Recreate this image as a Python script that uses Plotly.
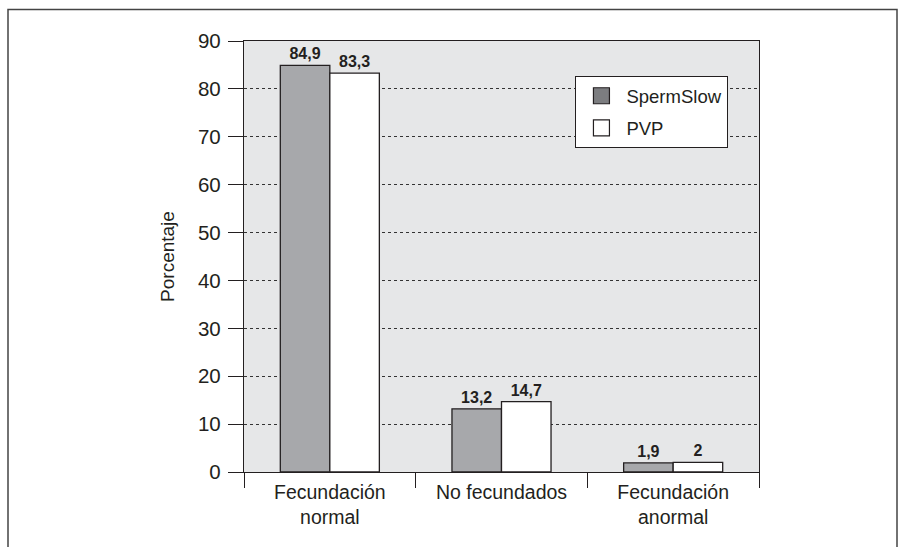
import plotly.graph_objects as go

# Outcome categories and percentages for each medium
categories = ["Fecundación<br>normal", "No fecundados", "Fecundación<br>anormal"]
spermslow = [84.9, 13.2, 1.9]
pvp = [83.3, 14.7, 2.0]
series_names = ["SpermSlow", "PVP"]
y_ticks = [0, 10, 20, 30, 40, 50, 60, 70, 80, 90]

INK = "#231f20"
FONT = "Liberation Sans, Arial, Helvetica, sans-serif"


def fmt(v):
    return f"{v:g}".replace(".", ",")


fig = go.Figure()

bar_styles = [
    (series_names[0], spermslow, "#a7a8ab"),
    (series_names[1], pvp, "#ffffff"),
]
for name, vals, color in bar_styles:
    fig.add_trace(go.Bar(
        x=categories, y=vals, name=name, showlegend=False,
        marker=dict(color=color, line=dict(color=INK, width=1.3)),
        text=[fmt(v) for v in vals], textposition="outside",
        textfont=dict(family=FONT, size=16, color=INK),
        texttemplate="<b>%{text}</b>", cliponaxis=False,
        constraintext="none",
    ))

# Legend entries (square swatches)
legend_styles = [(series_names[0], "#7c7d80"), (series_names[1], "#ffffff")]
for i, (name, color) in enumerate(legend_styles):
    fig.add_trace(go.Scatter(
        x=[None], y=[None], mode="markers", name=name,
        legendgroup=f"g{i}",
        marker=dict(symbol="square", size=17, color=color,
                    line=dict(color=INK, width=1.2)),
    ))

fig.update_layout(
    width=906, height=547,
    margin=dict(l=244, r=147, t=41, b=75),
    paper_bgcolor="white", plot_bgcolor="#e6e7e8",
    barmode="group", bargap=0.423, bargroupgap=0,
    font=dict(family=FONT, color=INK),
    showlegend=True,
    legend=dict(
        x=0.643, y=0.919, xanchor="left", yanchor="top",
        bgcolor="white", bordercolor=INK, borderwidth=1.3,
        font=dict(family=FONT, size=18.5, color=INK),
        tracegroupgap=5, traceorder="grouped",
        itemsizing="trace", itemwidth=40,
    ),
    shapes=[dict(
        type="rect", xref="paper", yref="paper",
        x0=(8 - 244) / 515, x1=(897 - 244) / 515,
        y0=-0.4, y1=(472 - 9.5) / 431,
        line=dict(color="#444444", width=1.5), layer="below",
    )],
)

fig.update_xaxes(
    type="category", tickson="boundaries",
    ticks="outside", ticklen=15, tickwidth=1.3, tickcolor=INK,
    showline=True, linecolor=INK, linewidth=1.3, mirror=True,
    showgrid=False, tickfont=dict(family=FONT, size=19.5, color=INK),
    ticklabelstandoff=2,
)
fig.update_yaxes(
    range=[0, 90], tickvals=y_ticks,
    ticks="outside", ticklen=15, tickwidth=1.3, tickcolor=INK,
    showline=True, linecolor=INK, linewidth=1.3, mirror=True,
    showgrid=True, gridcolor="#333333", gridwidth=0.8, griddash="3px,3px",
    zeroline=False, ticklabelstandoff=3,
    tickfont=dict(family=FONT, size=20.5, color=INK),
    title=dict(text="Porcentaje", font=dict(family=FONT, size=19, color=INK),
               standoff=18),
)

fig.write_html("out.html")
